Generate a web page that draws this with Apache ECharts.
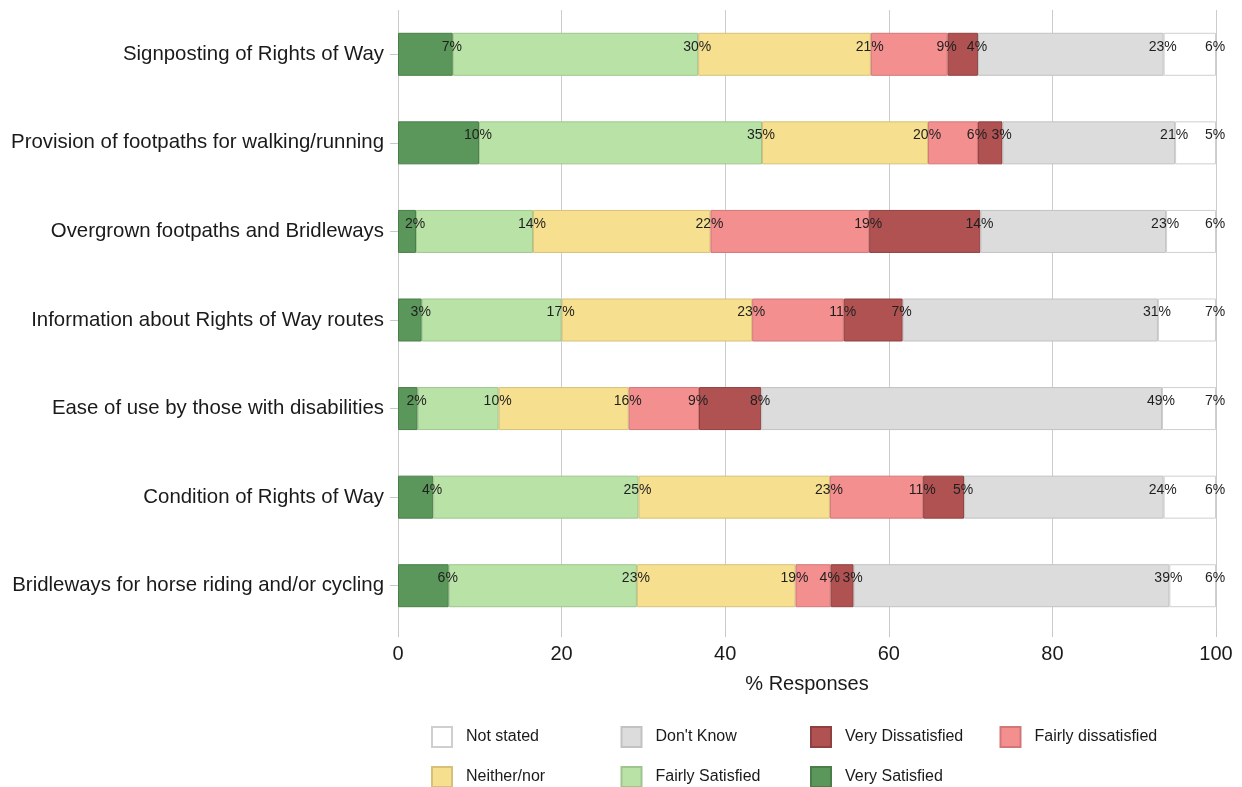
<!DOCTYPE html>
<html>
<head>
<meta charset="utf-8">
<script src="https://cdn.jsdelivr.net/npm/echarts@6/dist/echarts.min.js"></script>
<style>html,body{margin:0;padding:0;background:#fff}#c{width:1242px;height:787px}</style>
</head>
<body>
<div id="c"></div>
<script>
const categories = [
  'Signposting of Rights of Way',
  'Provision of footpaths for walking/running',
  'Overgrown footpaths and Bridleways',
  'Information about Rights of Way routes',
  'Ease of use by those with disabilities',
  'Condition of Rights of Way',
  'Bridleways for horse riding and/or cycling'
];
const verySatisfied      = [6.7, 9.9, 2.2, 2.9, 2.4, 4.3, 6.2];
const fairlySatisfied    = [30.0, 34.6, 14.3, 17.1, 9.9, 25.1, 23.0];
const neitherNor         = [21.1, 20.3, 21.7, 23.3, 15.9, 23.4, 19.4];
const fairlyDissatisfied = [9.4, 6.1, 19.4, 11.2, 8.6, 11.4, 4.3];
const veryDissatisfied   = [3.7, 3.0, 13.6, 7.2, 7.6, 5.0, 2.8];
const dontKnow           = [22.7, 21.1, 22.7, 31.2, 49.0, 24.4, 38.6];
const notStated          = [6.4, 5.0, 6.1, 7.1, 6.6, 6.4, 5.7];
const xTicks = [0, 20, 40, 60, 80, 100];

const seriesDefs = [
  {name: 'Very Satisfied', data: verySatisfied, color: '#5b975a', border: '#4a7d49'},
  {name: 'Fairly Satisfied', data: fairlySatisfied, color: '#b9e3a6', border: '#9fc58f'},
  {name: 'Neither/nor', data: neitherNor, color: '#f6e08f', border: '#d6c07a'},
  {name: 'Fairly dissatisfied', data: fairlyDissatisfied, color: '#f48f8f', border: '#d27676'},
  {name: 'Very Dissatisfied', data: veryDissatisfied, color: '#b05252', border: '#8f4141'},
  {name: "Don't Know", data: dontKnow, color: '#dcdcdc', border: '#c2c2c2'},
  {name: 'Not stated', data: notStated, color: '#ffffff', border: '#cfcfcf'}
];
const legendOrder = ['Not stated', "Don't Know", 'Very Dissatisfied', 'Fairly dissatisfied',
                     'Neither/nor', 'Fairly Satisfied', 'Very Satisfied'];

const FONT = '"Liberation Sans", Arial, sans-serif';
const chart = echarts.init(document.getElementById('c'), null, {renderer: 'canvas'});

const legends = legendOrder.map((name, i) => ({
  data: [name],
  left: 431 + (i % 4) * 189.5,
  top: i < 4 ? 726 : 766,
  itemWidth: 20,
  itemHeight: 20,
  itemGap: 10,
  padding: 0,
  icon: 'rect',
  selectedMode: false,
  textStyle: {fontFamily: FONT, fontSize: 16, color: '#1a1a1a', padding: [0, 0, 0, 9]}
}));

chart.setOption({
  animation: false,
  backgroundColor: '#fff',
  legend: legends,
  grid: {left: 398, right: 26, top: 10, bottom: 157, containLabel: false},
  xAxis: {
    type: 'value', min: 0, max: 100, interval: 20,
    name: '% Responses', nameLocation: 'middle', nameGap: 44,
    nameTextStyle: {fontFamily: FONT, fontSize: 20, color: '#1a1a1a'},
    axisLine: {show: false},
    axisTick: {show: true, length: 7, lineStyle: {color: '#c8c8c8'}},
    axisLabel: {fontFamily: FONT, fontSize: 20, color: '#1a1a1a', margin: 14,
      formatter: v => xTicks.includes(v) ? String(v) : ''},
    splitLine: {show: true, lineStyle: {color: '#cccccc', width: 1}}
  },
  yAxis: {
    type: 'category', data: categories, inverse: true,
    axisLine: {show: false},
    axisTick: {show: true, alignWithLabel: true, length: 8, lineStyle: {color: '#c8c8c8'}},
    axisLabel: {fontFamily: FONT, fontSize: 20.4, color: '#1a1a1a', margin: 14}
  },
  series: seriesDefs.map(s => ({
    name: s.name, type: 'bar', stack: 'total', data: s.data, barWidth: 43,
    itemStyle: {color: s.color, borderColor: s.border, borderWidth: 1},
    label: {
      show: true, position: 'insideRight', distance: 0, align: 'center',
      offset: [-1, -7.5],
      fontFamily: FONT, fontSize: 14, color: '#1f1f1f',
      formatter: p => Math.round(p.value) + '%'
    }
  }))
});
</script>
</body>
</html>
